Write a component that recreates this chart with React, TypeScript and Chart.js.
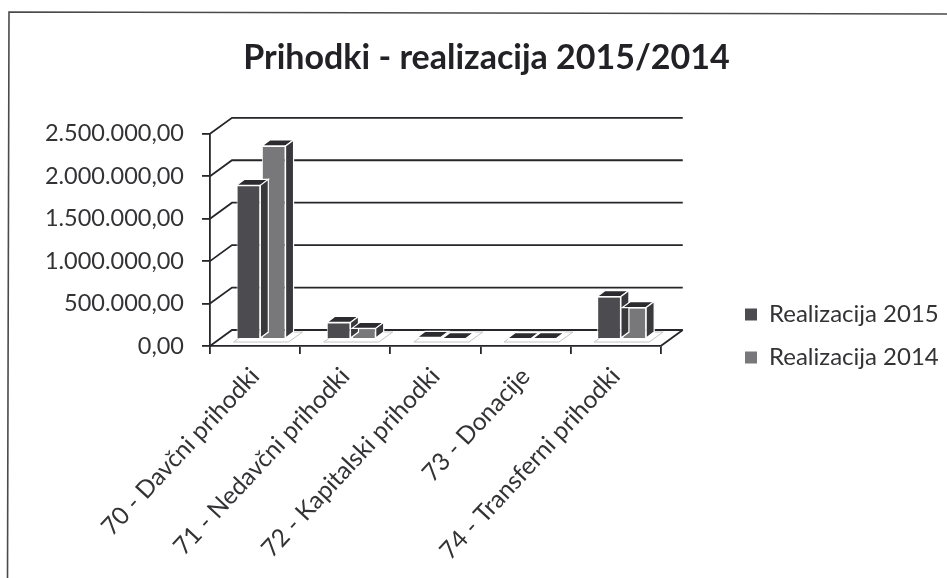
import React, { useEffect, useRef } from "react";
import { Chart, registerables } from "chart.js";

Chart.register(...registerables);

const categories = [
  "70 - Davčni prihodki",
  "71 - Nedavčni prihodki",
  "72 - Kapitalski prihodki",
  "73 - Donacije",
  "74 - Transferni prihodki",
];
const realizacija2015 = [1810000, 195000, 18000, 4000, 500000];
const realizacija2014 = [2275000, 125000, 5000, 4000, 370000];
const titleText = "Prihodki - realizacija 2015/2014";
const seriesNames = ["Realizacija 2015", "Realizacija 2014"];

const FONT = "Lato, Carlito, 'Open Sans', sans-serif";
const INK = "#333336";
const LINE = "#26262a";
const COLOR_2015 = "#4c4c50";
const COLOR_2014 = "#78787b";

const WALL_DX = 22;
const WALL_DY = 16;
const BAR_DX = 6;
const BAR_DY = 7;
const DEPTH_DX = 8;
const DEPTH_DY = 6;

const threeD = {
  id: "threeD",
  beforeDraw(chart: any) {
    const { ctx, width, height } = chart;
    ctx.save();
    ctx.fillStyle = "#ffffff";
    ctx.fillRect(0, 0, width, height);
    ctx.strokeStyle = "#4a4a4a";
    ctx.lineWidth = 1.6;
    ctx.beginPath();
    ctx.moveTo(7.5, 578);
    ctx.lineTo(9, 12);
    ctx.lineTo(947, 14);
    ctx.stroke();
    ctx.restore();

    // place title and legend where the reference has them
    const t = chart.titleBlock;
    if (t) {
      t.left = 13;
      t.right = 960;
    }
    const l = chart.legend;
    if (l) {
      l.left = 726;
      l.right = 947;
      l.top = 336 - 60;
      l.bottom = 336 + 60;
    }
  },
  beforeDatasetsDraw(chart: any) {
    const { ctx, scales, chartArea } = chart;
    const y = scales.y;
    ctx.save();
    ctx.strokeStyle = LINE;
    ctx.lineWidth = 1.8;
    y.ticks.forEach((tick: any) => {
      const py = y.getPixelForValue(tick.value);
      ctx.beginPath();
      ctx.moveTo(chartArea.left, py);
      ctx.lineTo(chartArea.left + WALL_DX, py - WALL_DY);
      ctx.lineTo(chartArea.right + WALL_DX, py - WALL_DY);
      ctx.stroke();
    });
    // floor right edge
    const p0 = y.getPixelForValue(0);
    ctx.beginPath();
    ctx.moveTo(chartArea.right, p0);
    ctx.lineTo(chartArea.right + WALL_DX, p0 - WALL_DY);
    ctx.stroke();
    ctx.restore();

    // light pads under the bars
    ctx.save();
    ctx.strokeStyle = "#c4c4c4";
    ctx.fillStyle = "#ffffff";
    ctx.lineWidth = 1;
    chart.data.labels.forEach((_: any, i: number) => {
      const a = chart.getDatasetMeta(0).data[i];
      const b = chart.getDatasetMeta(1).data[i];
      const x0 = a.x - a.width / 2 + BAR_DX - 3;
      const x1 = b.x + b.width / 2 + BAR_DX + 3;
      const base = p0 - BAR_DY + 3;
      ctx.beginPath();
      ctx.moveTo(x0, base);
      ctx.lineTo(x1, base);
      ctx.lineTo(x1 + DEPTH_DX + 6, base - DEPTH_DY - 4);
      ctx.lineTo(x0 + DEPTH_DX + 6, base - DEPTH_DY - 4);
      ctx.closePath();
      ctx.fill();
      ctx.stroke();
    });
    ctx.restore();

    ctx.save();
    ctx.translate(BAR_DX, -BAR_DY);
  },
  afterDatasetsDraw(chart: any) {
    const { ctx } = chart;
    chart.data.datasets.forEach((_: any, di: number) => {
      chart.getDatasetMeta(di).data.forEach((bar: any) => {
        const xl = bar.x - bar.width / 2;
        const xr = bar.x + bar.width / 2;
        const yt = bar.y;
        const yb = bar.base;
        ctx.strokeStyle = "#ffffff";
        ctx.lineWidth = 1.2;
        ctx.fillStyle = "#2b2b30";
        ctx.beginPath();
        ctx.moveTo(xl, yt);
        ctx.lineTo(xl + DEPTH_DX, yt - DEPTH_DY);
        ctx.lineTo(xr + DEPTH_DX, yt - DEPTH_DY);
        ctx.lineTo(xr, yt);
        ctx.closePath();
        ctx.fill();
        ctx.stroke();
        if (yb - yt > 2) {
          ctx.fillStyle = "#38383d";
          ctx.beginPath();
          ctx.moveTo(xr, yt);
          ctx.lineTo(xr + DEPTH_DX, yt - DEPTH_DY);
          ctx.lineTo(xr + DEPTH_DX, yb - DEPTH_DY);
          ctx.lineTo(xr, yb);
          ctx.closePath();
          ctx.fill();
          ctx.stroke();
        }
      });
    });
    ctx.restore();
  },
};

export default function App() {
  const ref = useRef<HTMLCanvasElement>(null);
  useEffect(() => {
    const chart = new Chart(ref.current as HTMLCanvasElement, {
      type: "bar",
      data: {
        labels: categories,
        datasets: [
          {
            label: seriesNames[0],
            data: realizacija2015,
            backgroundColor: COLOR_2015,
            borderColor: "#ffffff",
            borderWidth: 1,
          },
          {
            label: seriesNames[1],
            data: realizacija2014,
            backgroundColor: COLOR_2014,
            borderColor: "#ffffff",
            borderWidth: 1,
          },
        ],
      },
      options: {
        responsive: false,
        animation: false,
        events: [],
        categoryPercentage: 0.56,
        barPercentage: 0.94,
        layout: { padding: { left: 0, right: 66, top: 0, bottom: 0 } },
        plugins: {
          tooltip: { enabled: false },
          title: {
            display: true,
            text: titleText,
            color: "#222226",
            font: { family: FONT, size: 34, weight: "bold" },
            padding: { top: 38, bottom: 55 },
          },
          legend: {
            display: true,
            position: "right",
            align: "center",
            labels: {
              font: { family: FONT, size: 24 },
              color: INK,
              boxWidth: 12,
              boxHeight: 12,
              padding: 19,
              generateLabels(c: any) {
                return Chart.defaults.plugins.legend.labels
                  .generateLabels(c)
                  .map((item: any) => ({ ...item, lineWidth: 0 }));
              },
            },
          },
        },
        scales: {
          x: {
            offset: true,
            afterFit(s: any) {
              s.height = 232;
            },
            grid: {
              offset: true,
              drawOnChartArea: false,
              drawTicks: true,
              tickLength: 8,
              color: LINE,
              lineWidth: 1.8,
            },
            border: { color: LINE, width: 1.8 },
            ticks: {
              minRotation: 47,
              maxRotation: 47,
              color: INK,
              padding: 8,
              font: { family: FONT, size: 24.5 },
            },
          },
          y: {
            min: 0,
            max: 2500000,
            afterFit(s: any) {
              s.width = 210;
            },
            grid: {
              drawOnChartArea: false,
              drawTicks: true,
              tickLength: 8,
              color: LINE,
              lineWidth: 1.8,
            },
            border: { color: LINE, width: 1.8 },
            ticks: {
              stepSize: 500000,
              color: INK,
              padding: 18,
              font: { family: FONT, size: 23.5 },
              callback(v: any) {
                const s = Math.round(Number(v))
                  .toString()
                  .replace(/\B(?=(\d{3})+$)/g, ".");
                return s + ",00";
              },
            },
          },
        },
      },
      plugins: [threeD],
    } as any);
    return () => chart.destroy();
  }, []);
  return (
    <canvas
      ref={ref}
      width={947}
      height={578}
      style={{ position: "fixed", left: 0, top: 0, width: 947, height: 578 }}
    />
  );
}
